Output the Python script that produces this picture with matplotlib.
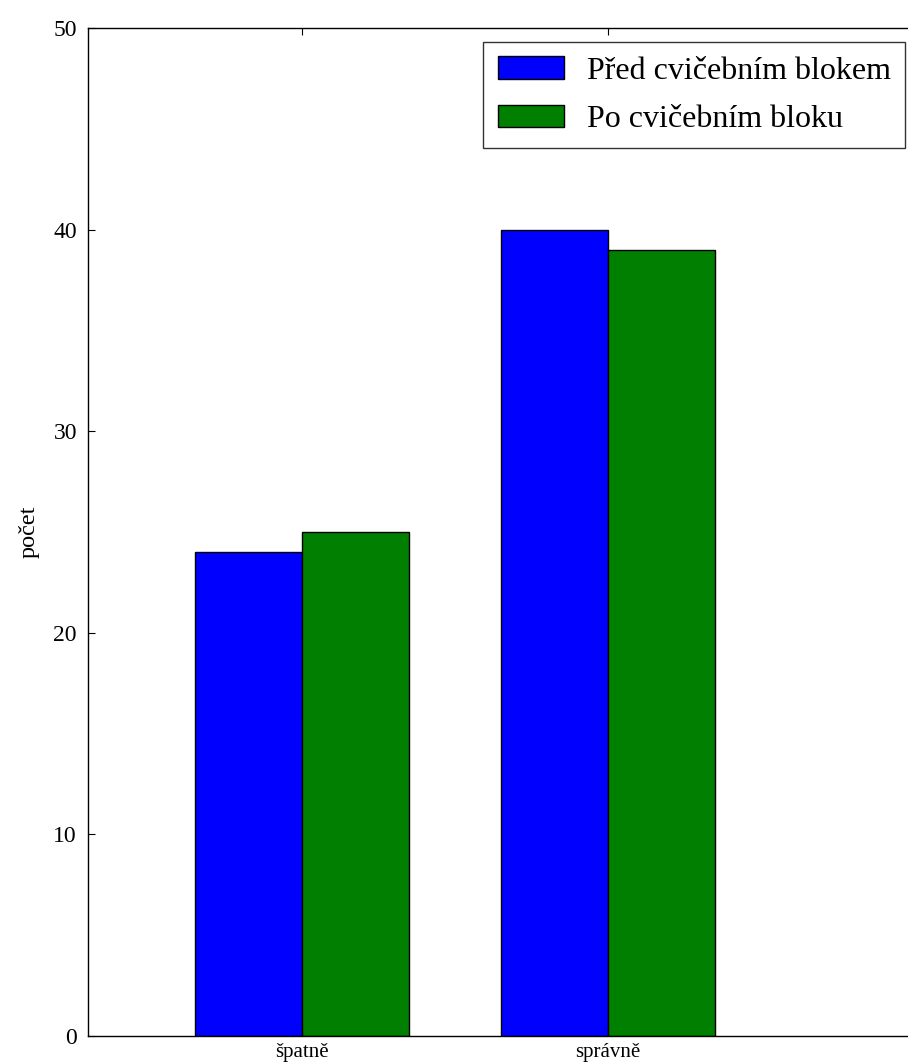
import numpy as np
import matplotlib
matplotlib.use("Agg")
import matplotlib.pyplot as plt

plt.rcParams['font.family'] = ['Liberation Serif', 'DejaVu Serif']

categories = ["špatně", "správně"]
before = [24, 40]
after = [25, 39]
series_labels = ["Před cvičebním blokem", "Po cvičebním bloku"]
y_ticks = [0, 10, 20, 30, 40, 50]

width = 0.35
ind = np.arange(len(categories))

fig = plt.figure(figsize=(9.08, 10.64), dpi=100, facecolor='white')
ax = fig.add_axes([88 / 908, 28 / 1064, 829 / 908, 1008 / 1064])

b1 = ax.bar(ind, before, width, align='edge', color='#0000ff',
            edgecolor='black', linewidth=1.0)
b2 = ax.bar(ind + width, after, width, align='edge', color='#007f00',
            edgecolor='black', linewidth=1.0)

ax.set_xlim(-width, len(categories) + width + 0.01)
ax.set_ylim(0, 50)
ax.set_yticks(y_ticks)
ax.set_xticks(ind + width)
ax.set_xticklabels(categories, fontsize=15)
ax.set_ylabel("počet", fontsize=17.5, labelpad=10)

ax.tick_params(axis='both', which='major', direction='in', length=5,
               width=0.8, top=True, right=True)
ax.tick_params(axis='y', labelsize=17, pad=8)
ax.tick_params(axis='x', pad=5)
for s in ax.spines.values():
    s.set_linewidth(1.0)

leg = ax.legend([b1, b2], series_labels, loc='upper right',
                bbox_to_anchor=(905 / 908, 1 - 42 / 1064),
                bbox_transform=fig.transFigure, fontsize=23,
                fancybox=False, borderaxespad=0, handlelength=2.07,
                handleheight=0.69, borderpad=0.45, labelspacing=0.6,
                handletextpad=0.72)
leg.get_frame().set_edgecolor('black')
leg.get_frame().set_linewidth(1.0)

fig.savefig("out.png", dpi=100, facecolor='white')
